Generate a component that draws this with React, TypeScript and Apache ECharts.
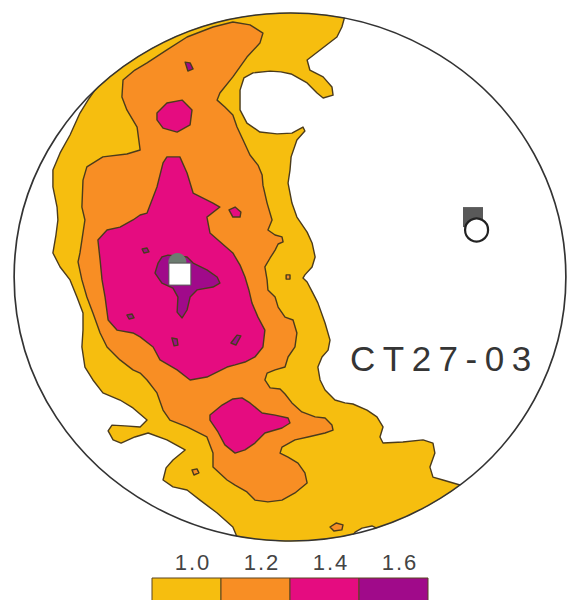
import React, { useEffect, useRef } from "react";
import * as echarts from "echarts";

type Pt = [number, number];

// Net coordinates: percent of the primitive circle radius (centre = 0,0).
// Contour levels (multiples of uniform density) and their fills.
const levels = ["1.0", "1.2", "1.4", "1.6"];
const levelColors = ["#F6BE0F", "#F88E24", "#E50C80", "#A00A8A"];
const sampleName = "CT27-03";

// 1.0 contour (points beyond the net close the area; the primitive circle clips them)
const contour10: Pt[][] = [
  [
    [-69.9, 72.0], [-73.2, 67.0], [-76.1, 62.1], [-79.7, 53.8], [-83.3, 47.0], [-85.9, 40.5],
    [-85.9, 34.1], [-84.4, 26.5], [-84.1, 21.6], [-84.8, 15.9], [-85.9, 9.1], [-83.3, 3.8],
    [-79.7, -1.1], [-77.2, -7.6], [-75.0, -13.6], [-75.0, -20.1], [-75.4, -26.5], [-74.3, -34.1],
    [-71.4, -39.0], [-67.8, -43.9], [-61.6, -46.6], [-56.9, -49.6], [-51.8, -54.2], [-54.3, -56.8],
    [-59.8, -56.4], [-64.5, -56.1], [-65.9, -58.3], [-64.1, -61.7], [-61.2, -62.9], [-56.2, -60.6],
    [-51.4, -59.1], [-44.6, -61.7], [-38.0, -65.5], [-42.4, -69.3], [-44.9, -72.3], [-46.0, -76.9],
    [-42.4, -79.5], [-37.3, -80.7], [-32.6, -84.5], [-26.4, -89.4], [-20.7, -94.7], [-19.2, -98.5],
    [-19.9, -103.4], [3.6, -109.1], [39.9, -107.2], [65.2, -86.4],
    [61.6, -78.8], [55.4, -76.9], [51.8, -75.8], [50.7, -72.0], [52.5, -66.7], [51.8, -62.9],
    [48.2, -61.7], [40.9, -62.5], [33.7, -62.9], [32.6, -60.6], [33.7, -56.8], [31.5, -53.0],
    [27.9, -50.4], [22.8, -48.1], [19.9, -47.7], [16.3, -46.6], [12.7, -42.8], [10.9, -39.0],
    [10.1, -34.1], [11.6, -30.3], [13.8, -27.7], [14.5, -23.9], [12.7, -17.4], [10.1, -9.8],
    [8.3, -6.1], [6.2, -1.9], [4.7, -0.4], [5.4, 0.8], [8.0, 3.8], [9.1, 7.6], [8.0, 12.9],
    [6.2, 17.0], [2.5, 22.7], [0.7, 28.0], [-0.7, 35.6], [0.0, 40.5], [0.4, 45.5], [2.5, 51.9],
    [5.4, 55.3], [4.7, 56.8], [0.7, 54.5], [-4.7, 54.2], [-10.9, 54.9], [-15.6, 58.3],
    [-18.1, 63.3], [-18.1, 70.8], [-16.7, 75.4], [-13.4, 77.3], [-7.2, 78.0], [-3.3, 77.7],
    [0.4, 76.9], [6.2, 73.5], [9.8, 69.7], [12.0, 67.8], [15.6, 68.9], [15.2, 72.0], [12.0, 75.8],
    [7.2, 78.4], [6.2, 82.2], [10.9, 86.0], [17.0, 90.9], [18.8, 94.7],
    [21.0, 103.0], [19.9, 106.8], [-14.5, 108.7], [-50.7, 104.9], [-79.7, 82.2],
  ],
];

// gaps below 1.0 inside the 1.0 area
const gaps10: Pt[][] = [
  [[21.7, -99.6], [23.6, -96.6], [26.1, -95.1], [29.7, -94.3], [32.6, -95.8], [32.6, -101.5]],
];

// 1.2 contour
const contour12: Pt[][] = [
  [
    [-60.5, 74.6], [-56.2, 78.4], [-51.8, 81.1], [-44.6, 86.0], [-37.3, 90.9], [-27.9, 94.7],
    [-20.7, 96.6], [-14.5, 95.5], [-9.8, 92.4], [-10.9, 88.6], [-15.6, 83.3], [-20.7, 75.8],
    [-25.4, 69.7], [-26.4, 67.0], [-23.6, 64.4], [-20.7, 61.4], [-19.2, 56.8], [-17.0, 51.9],
    [-14.5, 46.2], [-11.6, 42.4], [-10.1, 38.6], [-9.8, 34.8], [-8.3, 28.0], [-6.5, 21.6],
    [-8.0, 17.8], [-5.4, 15.9], [-2.9, 15.2], [-2.5, 13.3], [-4.3, 12.5], [-5.4, 10.2],
    [-7.2, 7.2], [-9.1, 3.8], [-8.3, -1.1], [-8.0, -4.9], [-5.4, -7.6], [-4.3, -11.4],
    [-1.8, -15.2], [1.1, -16.3], [2.5, -21.2], [1.8, -26.5], [-0.7, -30.3], [-1.8, -34.1],
    [-5.4, -35.2], [-8.3, -36.4], [-9.1, -39.0], [-7.2, -42.0], [-3.6, -42.4], [-1.8, -44.3],
    [0.7, -47.7], [4.3, -51.1], [9.1, -53.0], [12.7, -53.4], [15.2, -56.1], [15.6, -58.0],
    [12.7, -59.1], [6.5, -60.6], [1.8, -61.7], [-2.9, -64.4], [-3.6, -66.7], [-0.7, -68.2],
    [2.9, -70.5], [5.4, -74.2], [6.2, -78.0], [1.8, -81.8], [-2.9, -84.5], [-8.0, -85.2],
    [-12.7, -84.5], [-15.6, -81.4], [-19.9, -78.8], [-22.8, -76.9], [-27.9, -72.0], [-27.9, -66.7],
    [-30.1, -60.6], [-37.3, -56.8], [-43.5, -54.2], [-46.0, -50.4], [-48.2, -43.9], [-51.8, -39.0],
    [-54.3, -36.4], [-56.9, -35.2], [-61.6, -31.4], [-66.3, -26.5], [-68.8, -21.2], [-71.4, -13.6],
    [-73.6, -7.6], [-75.4, -1.1], [-76.8, 5.7], [-76.1, 9.1], [-75.4, 14.0], [-74.3, 21.6],
    [-75.4, 26.5], [-75.0, 36.7], [-73.6, 41.7], [-67.8, 45.5], [-59.1, 46.6], [-54.3, 48.1],
    [-55.4, 56.8], [-59.1, 63.3], [-60.9, 68.2],
  ],
  [[14.5, -94.7], [16.7, -93.2], [19.2, -93.9], [18.8, -95.8], [15.9, -96.2]],
  [[-1.4, 0.8], [0.0, 0.8], [0.0, -0.8], [-1.4, -0.8]],
  [[-35.5, -73.1], [-33.7, -72.7], [-33.0, -74.2], [-34.8, -75.0]],
];

// 1.4 contour
const contour14: Pt[][] = [
  [
    [-44.6, 45.5], [-39.9, 45.5], [-37.3, 39.4], [-35.1, 31.8], [-27.9, 28.0], [-25.4, 26.5],
    [-30.1, 22.7], [-29.0, 16.7], [-20.7, 9.1], [-18.1, 4.5], [-16.3, 0.0], [-14.9, -4.9],
    [-13.8, -9.8], [-11.6, -15.2], [-9.1, -20.1], [-9.8, -26.5], [-12.7, -30.3], [-16.3, -32.2],
    [-19.9, -33.3], [-22.8, -34.1], [-30.1, -37.9], [-36.2, -39.0], [-40.9, -35.2], [-47.1, -31.4],
    [-49.6, -26.5], [-54.3, -22.7], [-56.9, -21.2], [-62.7, -20.1], [-65.9, -16.3], [-67.0, -7.6],
    [-68.1, -1.1], [-68.8, 6.4], [-69.6, 14.0], [-66.3, 17.8], [-61.6, 18.9], [-56.9, 21.6],
    [-54.3, 23.5], [-51.8, 24.2], [-48.2, 34.1], [-46.0, 43.2],
  ],
  [[-48.2, 62.1], [-44.6, 65.9], [-39.1, 67.0], [-35.5, 63.3], [-36.2, 57.6], [-40.9, 54.9], [-46.0, 56.4], [-48.2, 59.5]],
  [
    [-29.0, -52.3], [-24.6, -48.5], [-20.7, -46.2], [-17.4, -45.8], [-14.5, -47.7], [-10.1, -51.5],
    [-5.4, -52.3], [-0.7, -53.4], [0.0, -55.3], [-2.9, -57.2], [-9.1, -59.1], [-12.7, -62.9],
    [-16.3, -65.5], [-19.9, -66.7], [-23.6, -63.6], [-26.1, -58.7], [-29.0, -54.2],
  ],
  [[-22.1, 25.4], [-19.9, 26.5], [-17.8, 24.6], [-18.1, 22.7], [-20.7, 22.7]],
];

// 1.6 contour
const contour16: Pt[][] = [
  [
    [-47.8, 5.3], [-46.4, 7.6], [-44.2, 8.3], [-37.3, 7.6], [-35.1, 5.3], [-30.1, 2.7],
    [-26.4, 0.0], [-25.4, -2.3], [-27.9, -3.8], [-33.7, -4.9], [-36.2, -7.6], [-37.3, -12.5],
    [-39.1, -15.5], [-40.9, -13.3], [-40.6, -7.6], [-42.4, -4.2], [-46.4, -2.3], [-48.9, 1.5],
  ],
  [[-38.0, 81.4], [-36.2, 81.1], [-35.1, 78.8], [-37.0, 78.0]],
  [[-53.6, 10.6], [-51.8, 11.0], [-51.1, 9.5], [-52.9, 9.1]],
  [[-59.1, -14.4], [-57.2, -14.0], [-56.5, -15.5], [-58.3, -15.9]],
  [[-42.8, -23.1], [-40.9, -23.5], [-40.6, -25.8], [-42.0, -26.1]],
  [[-21.4, -25.0], [-19.2, -22.0], [-17.8, -22.3], [-19.6, -25.8]],
];

// point markers
const hiddenCircle: Pt[] = [[-40.8, 5.7]];
const openSquare: Pt[] = [[-39.9, 1.1]];
const filledSquare: Pt[] = [[66.3, 22.7]];
const openCircle: Pt[] = [[67.6, 17.8]];

const LINE = "#4b3b1c";

function polySeries(polys: Pt[][], fill: string, z: number) {
  return {
    type: "custom",
    coordinateSystem: "cartesian2d",
    z,
    silent: true,
    clip: false,
    data: polys.map((p, i) => [p[0][0], p[0][1], i]),
    encode: { x: 0, y: 1 },
    renderItem: (_params: any, api: any) => {
      const poly = polys[api.value(2)];
      return {
        type: "polygon",
        shape: { points: poly.map((pt) => api.coord(pt)) },
        style: { fill, stroke: LINE, lineWidth: 1.4, lineJoin: "round" },
      };
    },
  };
}

export default function App() {
  const ref = useRef<HTMLDivElement>(null);

  useEffect(() => {
    const el = ref.current!;
    const chart = echarts.init(el, undefined, { renderer: "svg" });

    const font = '"Liberation Sans", Arial, sans-serif';
    const boxW = 69;
    const option: any = {
      animation: false,
      backgroundColor: "#ffffff",
      grid: { left: 14, right: 3, top: 13, bottom: 59, containLabel: false },
      xAxis: { type: "value", min: -100, max: 100, show: false },
      yAxis: { type: "value", min: -100, max: 100, show: false },
      series: [
        polySeries(contour10, levelColors[0], 2),
        polySeries(gaps10, "#ffffff", 3),
        polySeries(contour12, levelColors[1], 4),
        polySeries(contour14, levelColors[2], 5),
        polySeries(contour16, levelColors[3], 6),
        {
          type: "custom",
          coordinateSystem: "cartesian2d",
          z: 7,
          silent: true,
          clip: false,
          data: [[0, 0]],
          renderItem: (_p: any, api: any) => {
            const c = api.coord([0, 0]);
            const s = api.size([100, 100]);
            const rx = s[0];
            const ry = s[1];
            return {
              type: "group",
              children: [
                {
                  type: "circle",
                  x: c[0],
                  y: c[1],
                  scaleX: rx / ry,
                  scaleY: 1,
                  shape: { cx: 0, cy: 0, r: ry + 200.5 },
                  style: { fill: "none", stroke: "#ffffff", lineWidth: 400 },
                },
                {
                  type: "circle",
                  x: c[0],
                  y: c[1],
                  scaleX: rx / ry,
                  scaleY: 1,
                  shape: { cx: 0, cy: 0, r: ry },
                  style: { fill: "none", stroke: "#333333", lineWidth: 1.6, strokeNoScale: true },
                },
              ],
            };
          },
        },
        {
          type: "scatter",
          z: 8,
          silent: true,
          symbol: "circle",
          symbolSize: 18,
          data: hiddenCircle,
          itemStyle: { color: "#6c7c70", opacity: 1 },
        },
        {
          type: "scatter",
          z: 9,
          silent: true,
          symbol: "rect",
          symbolSize: 22,
          data: openSquare,
          itemStyle: { color: "#ffffff", borderColor: "#555555", borderWidth: 1, opacity: 1 },
        },
        {
          type: "scatter",
          z: 8,
          silent: true,
          symbol: "rect",
          symbolSize: 20,
          data: filledSquare,
          itemStyle: { color: "#595959", opacity: 1 },
        },
        {
          type: "scatter",
          z: 9,
          silent: true,
          symbol: "circle",
          symbolSize: 23,
          data: openCircle,
          itemStyle: { color: "#ffffff", borderColor: "#222222", borderWidth: 2.2, opacity: 1 },
        },
      ],
      graphic: [
        ...levels.map((_lv, i) => ({
          type: "rect",
          z: 100,
          silent: true,
          shape: { x: 152 + i * boxW, y: 578, width: boxW, height: 26 },
          style: { fill: levelColors[i], stroke: "#5a4520", lineWidth: 1 },
        })),
        ...levels.map((lv, i) => ({
          type: "text",
          z: 100,
          silent: true,
          x: 152 + i * boxW + boxW / 2 + 6.5,
          y: 562,
          style: {
            text: lv,
            fill: "#444444",
            font: `22px ${font}`,
            align: "center",
            verticalAlign: "middle",
            textAlign: "center",
            textVerticalAlign: "middle",
          },
        })),
        {
          type: "text",
          z: 100,
          silent: true,
          x: 350,
          y: 358,
          style: {
            text: sampleName,
            fill: "#353535",
            font: `35px ${font}`,
            align: "left",
            verticalAlign: "middle",
            textAlign: "left",
            textVerticalAlign: "middle",
          },
        },
      ],
    };

    chart.setOption(option);

    const applySpacing = () => {
      el.querySelectorAll("text").forEach((t) => {
        const s = t.textContent || "";
        if (s === sampleName) t.setAttribute("letter-spacing", "7.5");
        else if (levels.includes(s)) t.setAttribute("letter-spacing", "2");
      });
    };
    applySpacing();
    chart.on("finished", applySpacing);
    const timer = setTimeout(applySpacing, 50);

    return () => {
      clearTimeout(timer);
      chart.dispose();
    };
  }, []);

  return (
    <div
      ref={ref}
      style={{ position: "fixed", left: 0, top: 0, width: 569, height: 600, background: "#fff" }}
    />
  );
}
